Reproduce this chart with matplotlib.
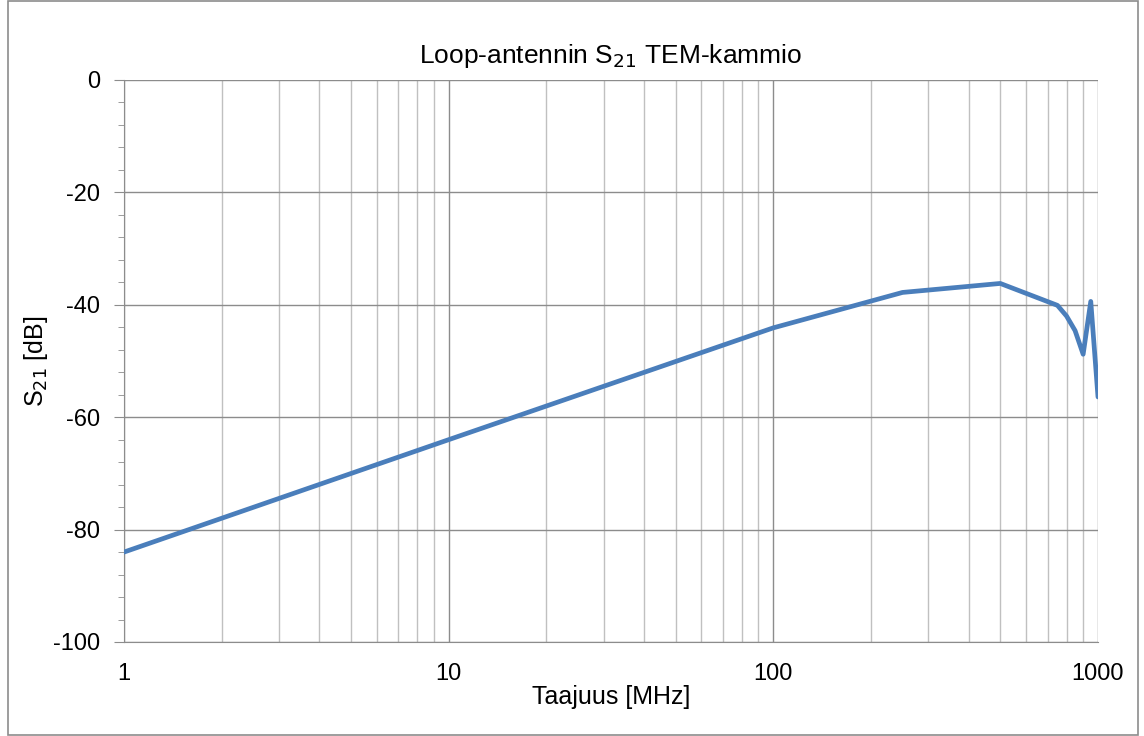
import matplotlib.pyplot as plt
from matplotlib.patches import Rectangle
from matplotlib.ticker import MultipleLocator, LogLocator, NullFormatter, FixedLocator

plt.rcParams['font.family'] = ['Liberation Sans', 'DejaVu Sans']
plt.rcParams['axes.unicode_minus'] = False

freq = [1, 10, 100, 250, 500, 750, 800, 850, 900, 950, 1000, 1050]
s21 = [-84.0, -64.0, -44.1, -37.8, -36.2, -40.1, -42.0, -44.6, -48.8, -39.4, -56.4, -50.0]

fig = plt.figure(figsize=(11.44, 7.36), dpi=100)
ax = fig.add_axes([124/1144, 1 - 642/736, (1098-124)/1144, (642-80)/736])

ax.plot(freq, s21, color='#4a7ebb', lw=3.4, solid_joinstyle='round', zorder=3)
ax.set_xscale('log')
ax.set_xlim(1, 1000)
ax.set_ylim(-100, 0)

ax.yaxis.set_major_locator(MultipleLocator(20))
ax.yaxis.set_minor_locator(MultipleLocator(4))
ax.xaxis.set_major_locator(FixedLocator([1, 10, 100, 1000]))
ax.xaxis.set_minor_locator(LogLocator(base=10, subs=range(2, 10)))
ax.xaxis.set_minor_formatter(NullFormatter())
ax.set_xticklabels(['1', '10', '100', '1000'])

ax.grid(True, which='major', color='#8c8c8c', lw=1.0)
ax.grid(True, which='minor', axis='x', color='#c0c0c0', lw=1.0)
ax.set_axisbelow(True)

for s in ['top', 'right']:
    ax.spines[s].set_visible(False)
for s in ['left', 'bottom']:
    ax.spines[s].set_color('#8c8c8c')

ax.tick_params(axis='y', which='major', length=7, color='#8c8c8c', labelsize=17, pad=10)
ax.tick_params(axis='y', which='minor', length=4, color='#8c8c8c')
ax.tick_params(axis='x', which='both', length=0, labelsize=17, pad=15)

ax.set_title('Loop-antennin S$_{21}$ TEM-kammio', fontsize=19, pad=12)
ax.set_xlabel('Taajuus [MHz]', fontsize=18, labelpad=0)
ax.set_ylabel('S$_{21}$ [dB]', fontsize=18, labelpad=2)

fig.patches.append(Rectangle((8/1144, 0.002), 1130/1144, 0.996, transform=fig.transFigure,
                             fill=False, edgecolor='#8c8c8c', lw=1.2))

fig.savefig('out.png', dpi=100)
